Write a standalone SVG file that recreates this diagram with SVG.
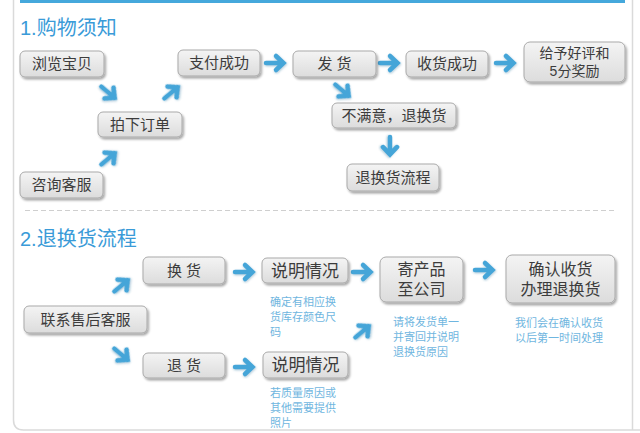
<svg xmlns="http://www.w3.org/2000/svg" xmlns:xlink="http://www.w3.org/1999/xlink" width="640" height="433" viewBox="0 0 640 433">
<defs>
<linearGradient id="bg" x1="0" y1="0" x2="0" y2="1">
<stop offset="0" stop-color="#f4f4f4"/>
<stop offset="1" stop-color="#dcdcdc"/>
</linearGradient>
<filter id="sh" x="-20%" y="-20%" width="140%" height="160%">
<feDropShadow dx="1.5" dy="2" stdDeviation="1.2" flood-color="#000" flood-opacity="0.35"/>
</filter>
<filter id="ash" x="-30%" y="-30%" width="160%" height="160%">
<feDropShadow dx="0.5" dy="1" stdDeviation="0.8" flood-color="#1a5f8a" flood-opacity="0.35"/>
</filter>
<g id="arr">
<path d="M-10,0 H7 M0,-7 L7.5,0 L0,7" fill="none" stroke="#45a5d8" stroke-width="4.5" stroke-linecap="round" stroke-linejoin="miter"/>
</g>
</defs>
<style>
.box{fill:url(#bg);stroke:#a9a9a9;stroke-width:1;filter:url(#sh)}
.t{font-family:"Liberation Sans","Noto Sans CJK SC",sans-serif;font-size:15px;fill:#3c3c3c;text-anchor:middle}
.tl{font-size:17px}
.t2{font-size:16px}
.ts{font-size:14px}
.h{font-family:"Liberation Sans","Noto Sans CJK SC",sans-serif;font-size:20px;fill:#3a9bd8}
.n{font-family:"Liberation Sans","Noto Sans CJK SC",sans-serif;font-size:11px;fill:#6fb6e0}
.a{filter:url(#ash)}
</style>
<rect width="640" height="433" fill="#ffffff"/>
<path d="M13.5,0 V420 Q13.5,430 23.5,430 H640" fill="none" stroke="#dadada" stroke-width="1.5"/>
<line x1="632.5" y1="0" x2="632.5" y2="430" stroke="#dadada" stroke-width="1.5"/>
<rect x="20" y="0" width="605" height="3" fill="#45a8dc"/>
<line x1="25" y1="210.5" x2="615" y2="210.5" stroke="#cfcfcf" stroke-width="1" stroke-dasharray="5 3"/>
<text class="h" x="20" y="35">1.购物须知</text>
<text class="h" x="20" y="246">2.退换货流程</text>

<g id="connectors">
<use xlink:href="#arr" class="a" transform="translate(109,93) rotate(40)"/>
<use xlink:href="#arr" class="a" transform="translate(172,92) rotate(-40)"/>
<use xlink:href="#arr" class="a" transform="translate(109,158) rotate(-40)"/>
<use xlink:href="#arr" class="a" transform="translate(276,63)"/>
<use xlink:href="#arr" class="a" transform="translate(390,63)"/>
<use xlink:href="#arr" class="a" transform="translate(506,63)"/>
<use xlink:href="#arr" class="a" transform="translate(343,91) rotate(40)"/>
<use xlink:href="#arr" class="a" transform="translate(390,147) rotate(90)"/>
<use xlink:href="#arr" class="a" transform="translate(122,285) rotate(-40)"/>
<use xlink:href="#arr" class="a" transform="translate(122,355) rotate(40)"/>
<use xlink:href="#arr" class="a" transform="translate(245,272)"/>
<use xlink:href="#arr" class="a" transform="translate(245,367)"/>
<use xlink:href="#arr" class="a" transform="translate(363,272)"/>
<use xlink:href="#arr" class="a" transform="translate(363,331) rotate(-40)"/>
<use xlink:href="#arr" class="a" transform="translate(485,270)"/>
</g>

<g id="n-browse"><rect class="box" x="20" y="51" width="84" height="26" rx="5"/><text class="t" x="62" y="69">浏览宝贝</text></g>
<g id="n-pay"><rect class="box" x="178" y="50" width="82" height="26" rx="5"/><text class="t" x="219" y="68">支付成功</text></g>
<g id="n-ship"><rect class="box" x="293" y="51" width="83" height="26" rx="5"/><text class="t" x="334.5" y="69">发 货</text></g>
<g id="n-receive"><rect class="box" x="406" y="51" width="82" height="26" rx="5"/><text class="t" x="447" y="69">收货成功</text></g>
<g id="n-review"><rect class="box" x="524" y="42" width="101" height="40" rx="6"/><text class="t ts" x="574.5" y="58">给予好评和</text><text class="t ts" x="574.5" y="76">5分奖励</text></g>
<g id="n-order"><rect class="box" x="98" y="112" width="84" height="25" rx="5"/><text class="t" x="140" y="130">拍下订单</text></g>
<g id="n-consult"><rect class="box" x="20" y="172" width="83" height="26" rx="5"/><text class="t" x="61.5" y="190">咨询客服</text></g>
<g id="n-unhappy"><rect class="box" x="332" y="103" width="124" height="25" rx="5"/><text class="t" x="394" y="121">不满意，退换货</text></g>
<g id="n-returnflow"><rect class="box" x="347" y="164" width="92" height="27" rx="5"/><text class="t" x="393" y="183">退换货流程</text></g>

<g id="n-exchange"><rect class="box" x="143" y="257" width="82" height="27" rx="5"/><text class="t" x="184" y="276">换 货</text></g>
<g id="n-explain1"><rect class="box" x="262" y="258" width="86" height="25" rx="5"/><text class="t tl" x="305" y="277">说明情况</text>
<text class="n" x="270" y="306">确定有相应换</text><text class="n" x="270" y="321">货库存颜色尺</text><text class="n" x="270" y="336">码</text></g>
<g id="n-send"><rect class="box" x="380" y="257" width="83" height="45" rx="6"/><text class="t t2" x="421.5" y="275">寄产品</text><text class="t t2" x="421.5" y="295">至公司</text>
<text class="n" x="393" y="326">请将发货单一</text><text class="n" x="393" y="341">并寄回并说明</text><text class="n" x="393" y="356">退换货原因</text></g>
<g id="n-confirm"><rect class="box" x="506" y="255" width="109" height="48" rx="6"/><text class="t t2" x="560.5" y="275">确认收货</text><text class="t t2" x="560.5" y="295">办理退换货</text>
<text class="n" x="515" y="327">我们会在确认收货</text><text class="n" x="515" y="342">以后第一时间处理</text></g>
<g id="n-contact"><rect class="box" x="24" y="306" width="123" height="27" rx="5"/><text class="t" x="85.5" y="325">联系售后客服</text></g>
<g id="n-refund"><rect class="box" x="143" y="353" width="82" height="25" rx="5"/><text class="t" x="184" y="371">退 货</text></g>
<g id="n-explain2"><rect class="box" x="263" y="352" width="85" height="26" rx="5"/><text class="t tl" x="305.5" y="371">说明情况</text>
<text class="n" x="270" y="397">若质量原因或</text><text class="n" x="270" y="412">其他需要提供</text><text class="n" x="270" y="427">照片</text></g>
</svg>
